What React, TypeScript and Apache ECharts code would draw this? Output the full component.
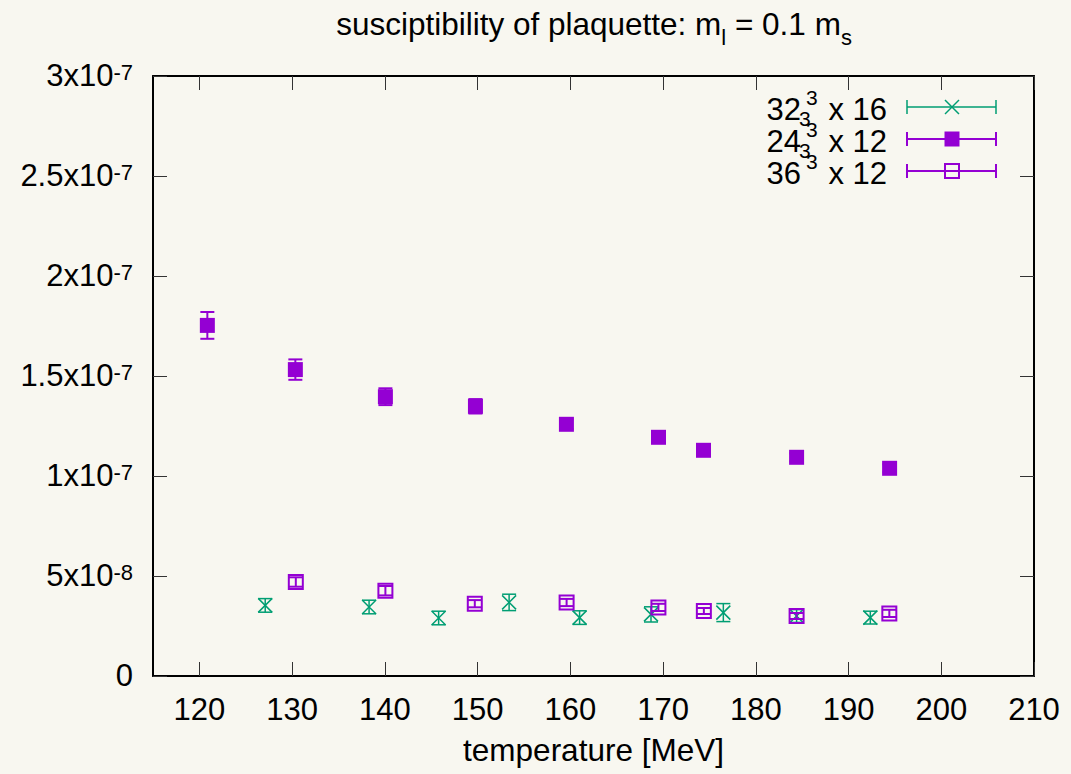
import React, { useEffect, useRef } from 'react';
import * as echarts from 'echarts';

// ---- data ----
const xTicks = [120, 130, 140, 150, 160, 170, 180, 190, 200, 210];
const yTickValues = [0, 5e-8, 1e-7, 1.5e-7, 2e-7, 2.5e-7, 3e-7];
const yTickMantissa = ['0', '5', '1', '1.5', '2', '2.5', '3'];
const yTickExponent = ['', '-8', '-7', '-7', '-7', '-7', '-7'];

// 32^3 x 16
const temps32 = [127.1, 138.3, 145.8, 153.4, 161.0, 168.7, 176.5, 184.4, 192.35];
const chi32 = [3.53e-8, 3.45e-8, 2.9e-8, 3.68e-8, 2.92e-8, 3.08e-8, 3.17e-8, 3.0e-8, 2.92e-8];
const err32 = [3.4e-9, 3.4e-9, 3.4e-9, 4.1e-9, 3.4e-9, 3.8e-9, 4.5e-9, 3.2e-9, 3.2e-9];

// 24^3 x 12
const temps24 = [120.86, 130.35, 140.06, 149.77, 159.58, 169.51, 174.36, 184.4, 194.43];
const chi24 = [1.753e-7, 1.532e-7, 1.3965e-7, 1.3485e-7, 1.2585e-7, 1.1935e-7, 1.1285e-7, 1.0935e-7, 1.0385e-7];
const err24 = [6.7e-9, 5.1e-9, 4.2e-9, 3.6e-9, 2.5e-9, 2.5e-9, 2e-9, 2e-9, 2e-9];

// 36^3 x 12
const temps36 = [130.4, 140.06, 149.7, 159.6, 169.5, 174.4, 184.4, 194.4];
const chi36 = [4.7e-8, 4.265e-8, 3.615e-8, 3.675e-8, 3.43e-8, 3.25e-8, 3.0e-8, 3.13e-8];
const err36 = [2.35e-9, 2.35e-9, 1.8e-9, 1.8e-9, 1.8e-9, 1.5e-9, 1.5e-9, 1.8e-9];

const GREEN = '#009e73';
const PURPLE = '#9400d3';
const FONT = "'Liberation Sans', Arial, sans-serif";
const BG = '#f8f7f0';

const mk = (xs: number[], ys: number[]) => xs.map((x, i) => [x, ys[i]]);
const mkErr = (xs: number[], ys: number[], es: number[]) => xs.map((x, i) => [x, ys[i], es[i]]);

const errRender = (color: string, lw: number) => (params: any, api: any) => {
  const x = api.value(0);
  const y = api.value(1);
  const e = api.value(2);
  const top = api.coord([x, y + e]);
  const bot = api.coord([x, y - e]);
  const hw = 7;
  const style = { stroke: color, lineWidth: lw, fill: 'none' };
  return {
    type: 'group',
    children: [
      { type: 'line', shape: { x1: top[0], y1: top[1], x2: bot[0], y2: bot[1] }, style },
      { type: 'line', shape: { x1: top[0] - hw, y1: top[1], x2: top[0] + hw, y2: top[1] }, style },
      { type: 'line', shape: { x1: bot[0] - hw, y1: bot[1], x2: bot[0] + hw, y2: bot[1] }, style },
    ],
  };
};

const yLabel = (v: number) => {
  const idx = yTickValues.findIndex((t) => Math.abs(t - v) < 1e-12);
  if (idx < 0) return '';
  const m = yTickMantissa[idx];
  const e = yTickExponent[idx];
  if (!e) return `{b|${m}}`;
  return `{b|${m}x10}{sup|${e}}`;
};

const legendRows = [
  { base: '32', rest: 'x 16', stray: true, color: GREEN, kind: 'x' },
  { base: '24', rest: 'x 12', stray: true, color: PURPLE, kind: 'fill' },
  { base: '36', rest: 'x 12', stray: false, color: PURPLE, kind: 'open' },
];

export default function App() {
  const ref = useRef<HTMLDivElement>(null);
  useEffect(() => {
    if (!ref.current) return;
    const chart = echarts.init(ref.current, null, { renderer: 'svg' });

    const axisLineStyle = { color: '#000', width: 2 };
    const tickStyle = { color: '#333', width: 1 };

    const legendGraphics: any[] = [];
    const rowY = [107, 139, 171];
    legendRows.forEach((r, i) => {
      const cy = rowY[i];
      legendGraphics.push({
        type: 'text', x: 801, y: cy + 2,
        style: { text: r.base, font: `31px ${FONT}`, fill: '#000', textAlign: 'right', textVerticalAlign: 'middle', lineHeight: 24 },
      });
      legendGraphics.push({
        type: 'text', x: 806, y: cy - 10,
        style: { text: '3', font: `21px ${FONT}`, fill: '#000', textAlign: 'left', textVerticalAlign: 'middle', lineHeight: 14 },
      });
      if (r.stray) {
        legendGraphics.push({
          type: 'text', x: 799, y: cy + 11,
          style: { text: '3', font: `21px ${FONT}`, fill: '#000', textAlign: 'left', textVerticalAlign: 'middle', lineHeight: 12 },
        });
      }
      legendGraphics.push({
        type: 'text', x: 887, y: cy + 2,
        style: { text: r.rest, font: `31px ${FONT}`, fill: '#000', textAlign: 'right', textVerticalAlign: 'middle', lineHeight: 24 },
      });
      const lw = r.kind === 'x' ? 1.5 : 2;
      const ls = { stroke: r.color, lineWidth: lw };
      legendGraphics.push({ type: 'line', shape: { x1: 907, y1: cy, x2: 996, y2: cy }, style: ls });
      legendGraphics.push({ type: 'line', shape: { x1: 907, y1: cy - 7, x2: 907, y2: cy + 7 }, style: ls });
      legendGraphics.push({ type: 'line', shape: { x1: 996, y1: cy - 7, x2: 996, y2: cy + 7 }, style: ls });
      if (r.kind === 'x') {
        legendGraphics.push({ type: 'line', shape: { x1: 945, y1: cy - 7, x2: 959, y2: cy + 7 }, style: ls });
        legendGraphics.push({ type: 'line', shape: { x1: 945, y1: cy + 7, x2: 959, y2: cy - 7 }, style: ls });
      } else if (r.kind === 'fill') {
        legendGraphics.push({ type: 'rect', shape: { x: 944.5, y: cy - 7.5, width: 15, height: 15 }, style: { fill: r.color } });
      } else {
        legendGraphics.push({ type: 'rect', shape: { x: 945, y: cy - 7, width: 14, height: 14 }, style: { fill: 'none', stroke: r.color, lineWidth: 2 } });
      }
    });

    const option: any = {
      animation: false,
      backgroundColor: BG,
      textStyle: { fontFamily: FONT },
      title: {
        text: '{t|susciptibility of plaquette: m}{sub|l}{t| = 0.1 m}{sub|s}',
        left: 594,
        top: 14,
        padding: 0,
        textAlign: 'center',
        textStyle: {
          fontFamily: FONT,
          fontSize: 31.5,
          fontWeight: 'normal',
          color: '#000',
          rich: {
            t: { fontFamily: FONT, fontSize: 31.5, lineHeight: 31, padding: [0, 0, 12, 0], color: '#000' },
            sub: { fontFamily: FONT, fontSize: 22, lineHeight: 22, padding: [18, 0, 3, 0], color: '#000' },
          },
        },
      },
      grid: { left: 153, right: 37, top: 76, bottom: 98, containLabel: false },
      xAxis: [
        {
          type: 'value', min: 115, max: 210, position: 'bottom',
          axisLine: { show: true, onZero: false, lineStyle: axisLineStyle },
          axisTick: { show: true, inside: true, length: 14, customValues: xTicks, lineStyle: tickStyle },
          axisLabel: { show: true, customValues: xTicks, margin: 18, fontSize: 31, color: '#000', fontFamily: FONT, lineHeight: 30 },
          splitLine: { show: false },
          name: 'temperature [MeV]', nameLocation: 'middle', nameGap: 58,
          nameTextStyle: { fontSize: 31.5, color: '#000', fontFamily: FONT, lineHeight: 31 },
        },
        {
          type: 'value', min: 115, max: 210, position: 'top',
          axisLine: { show: true, onZero: false, lineStyle: axisLineStyle },
          axisTick: { show: true, inside: true, length: 14, customValues: xTicks, lineStyle: tickStyle },
          axisLabel: { show: false },
          splitLine: { show: false },
        },
      ],
      yAxis: [
        {
          type: 'value', min: 0, max: 3e-7, interval: 5e-8, position: 'left',
          axisLine: { show: true, onZero: false, lineStyle: axisLineStyle },
          axisTick: { show: true, inside: true, length: 14, customValues: yTickValues, lineStyle: tickStyle },
          axisLabel: {
            show: true, customValues: yTickValues, margin: 20, color: '#000',
            formatter: (v: number) => yLabel(v),
            rich: {
              b: { fontFamily: FONT, fontSize: 31, lineHeight: 30, verticalAlign: 'bottom', color: '#000' },
              sup: { fontFamily: FONT, fontSize: 22, lineHeight: 21, padding: [0, 0, 19, 0], verticalAlign: 'top', color: '#000' },
            },
          },
          splitLine: { show: false },
        },
        {
          type: 'value', min: 0, max: 3e-7, interval: 5e-8, position: 'right',
          axisLine: { show: true, onZero: false, lineStyle: axisLineStyle },
          axisTick: { show: true, inside: true, length: 14, customValues: yTickValues, lineStyle: tickStyle },
          axisLabel: { show: false },
          splitLine: { show: false },
        },
      ],
      graphic: legendGraphics,
      series: [
        {
          type: 'custom', name: 'err32', renderItem: errRender(GREEN, 1.5),
          data: mkErr(temps32, chi32, err32), encode: { x: 0, y: 1 }, z: 2,
        },
        {
          type: 'scatter', name: '32^3 x 16', data: mk(temps32, chi32),
          symbol: 'path://M0,0L10,10M10,0L0,10', symbolSize: 14,
          itemStyle: { color: 'none', borderColor: GREEN, borderWidth: 1.5, opacity: 1 }, z: 3,
        },
        {
          type: 'custom', name: 'err24', renderItem: errRender(PURPLE, 2),
          data: mkErr(temps24, chi24, err24), encode: { x: 0, y: 1 }, z: 4,
        },
        {
          type: 'scatter', name: '24^3 x 12', data: mk(temps24, chi24),
          symbol: 'rect', symbolSize: 15,
          itemStyle: { color: PURPLE, opacity: 1 }, z: 5,
        },
        {
          type: 'custom', name: 'err36', renderItem: errRender(PURPLE, 2),
          data: mkErr(temps36, chi36, err36), encode: { x: 0, y: 1 }, z: 6,
        },
        {
          type: 'scatter', name: '36^3 x 12', data: mk(temps36, chi36),
          symbol: 'path://M0,0H10V10H0Z', symbolSize: 14,
          itemStyle: { color: 'none', borderColor: PURPLE, borderWidth: 2, opacity: 1 }, z: 7,
        },
      ],
    };
    chart.setOption(option);
    return () => chart.dispose();
  }, []);
  return <div ref={ref} style={{ position: 'fixed', left: 0, top: 0, width: 1071, height: 774 }} />;
}
